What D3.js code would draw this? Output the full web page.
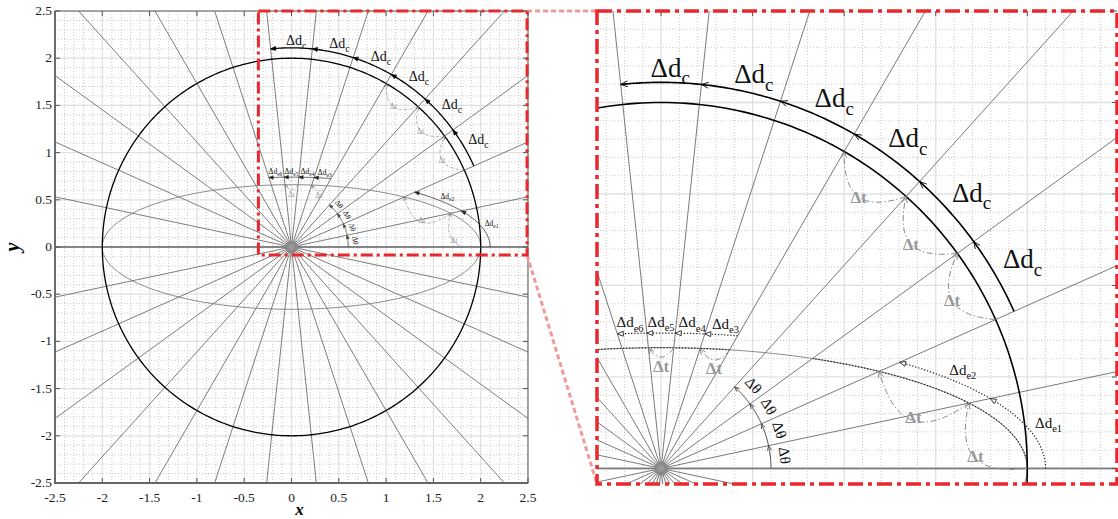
<!DOCTYPE html>
<html>
<head>
<meta charset="utf-8">
<script src="https://cdn.jsdelivr.net/npm/d3@7"></script>
<style>
  body { margin: 0; background: #fff; }
  svg { display: block; }
  text { font-family: "Liberation Serif", "Times New Roman", serif; }
</style>
</head>
<body>
<svg id="chart" width="1118" height="519"></svg>
<script>
// ---- values ----
const xTicks = [-2.5, -2, -1.5, -1, -0.5, 0, 0.5, 1, 1.5, 2, 2.5];
const yTicks = [-2.5, -2, -1.5, -1, -0.5, 0, 0.5, 1, 1.5, 2, 2.5];
const xTickLabels = ["-2.5", "-2", "-1.5", "-1", "-0.5", "0", "0.5", "1", "1.5", "2", "2.5"];
const yTickLabels = ["-2.5", "-2", "-1.5", "-1", "-0.5", "0", "0.5", "1", "1.5", "2", "2.5"];

// radial lines through the pole (degrees)
const rayAngles = [0, 12, 24, 36, 48, 60, 72, 84, 96, 108, 120, 132, 144, 156, 168,
                   180, 192, 204, 216, 228, 240, 252, 264, 276, 288, 300, 312, 324, 336, 348];

const circleRadius = 2;
const ellipseAxes = [2, 0.66];          // semi-axes of the ellipse
const outerEllipseAxes = [2.1, 0.74];   // offset ellipse carrying the Δd_e arrows
const topLabelAxes = [2.2, 0.8];        // ellipse on which the upper Δd_e labels sit

// Δd_c arc outside the circle
const dcArcRadius = 2.11;
const dcArcAngles = [24, 36, 48, 60, 72, 84, 96];
const dcSubs = ["c", "c", "c", "c", "c", "c"];
const dcLabelRadius = 2.19;

// Δt steps: circle and ellipse (start angle, end angle)
const dtCirclePairs = [[24, 36], [36, 48], [48, 60]];
const dtEllipsePairs = [[0, 12], [12, 24], [60, 72], [84, 96]];

// Δθ arc near the pole
const dThetaRadius = 0.6;
const dThetaAngles = [0, 12, 24, 36, 48];
const dThetaLabelRadius = 0.68;

// Δd_e arcs on the offset ellipse
const deSideAngles = [0, 12, 24];
const deSideSubs = ["e1", "e2"];
const deTopAngles = [60, 72, 84, 96, 108];
const deTopSubs = ["e3", "e4", "e5", "e6"];

// dotted stretches of the ellipse in the magnified view
const ellipseDottedRanges = [[0, 36], [60, 180]];

// ---- geometry helpers ----
const rad = d => d * Math.PI / 180;
const polar = (r, deg) => [r * Math.cos(rad(deg)), r * Math.sin(rad(deg))];
function ellipsePolar(ax, deg) {
  const [a, b] = ax, c = Math.cos(rad(deg)), s = Math.sin(rad(deg));
  const r = a * b / Math.sqrt((b * c) ** 2 + (a * s) ** 2);
  return [r * c, r * s];
}
function arcPts(fn, d0, d1, step = 0.5) {
  const n = Math.max(2, Math.ceil(Math.abs(d1 - d0) / step));
  return d3.range(n + 1).map(i => fn(d0 + (d1 - d0) * i / n));
}
const rot = (v, deg) => {
  const c = Math.cos(rad(deg)), s = Math.sin(rad(deg));
  return [v[0] * c - v[1] * s, v[0] * s + v[1] * c];
};

const svg = d3.select("#chart");
const RED = "#e8282c";

const panels = [
  {
    id: "full", px: [55, 528], py: [483, 11], xd: [-2.5, 2.5], yd: [-2.5, 2.5], full: true,
    s: {
      rayW: 0.9, rayC: "#6e6e6e", circleW: 1.3, ellW: 0.9, ellC: "#7a7a7a",
      dcFont: 14, dcSub: 10, dtFont: 7.5, dtBold: false, dthFont: 7.5,
      deFont: 7.5, deSub: 5.5, arrow: 5, arrowFilled: true, dtArrow: 3.5,
      dtDash: "2.5,1.2,0.7,1.2", dtW: 0.7, deDash: null, deW: 0.8, deC: "#333",
      majorW: 1.2, burst: 6
    }
  },
  {
    id: "zoom", px: [597, 1117], py: [484, 11], xd: [-0.35, 2.49], yd: [-0.085, 2.5], full: false,
    s: {
      rayW: 1, rayC: "#7a7a7a", circleW: 1.6, ellW: 1, ellC: "#8a8a8a",
      dcFont: 27, dcSub: 19, dtFont: 17, dtBold: true, dthFont: 15,
      deFont: 15, deSub: 10.5, arrow: 7, arrowFilled: false, dtArrow: 6,
      dtDash: "6,2.5,1.3,2.5", dtW: 1, deDash: "1.3,1.8", deW: 1.2, deC: "#222",
      majorW: 1.3, burst: 7
    }
  }
];

function headPath(tip, from, size, closed) {
  const dx = tip[0] - from[0], dy = tip[1] - from[1];
  const L = Math.hypot(dx, dy) || 1, ux = dx / L, uy = dy / L;
  const w = size * 0.42;
  const b = [tip[0] - ux * size, tip[1] - uy * size];
  const l = [b[0] - uy * w, b[1] + ux * w], r = [b[0] + uy * w, b[1] - ux * w];
  return `M${l[0]},${l[1]}L${tip[0]},${tip[1]}L${r[0]},${r[1]}` + (closed ? "Z" : "");
}

function subText(g, xPos, yPos, main, sub, size, subSize, anchor) {
  const t = g.append("text")
    .attr("x", xPos).attr("y", yPos)
    .attr("font-size", size)
    .attr("text-anchor", anchor)
    .attr("fill", "#111");
  t.append("tspan").text(main);
  t.append("tspan").attr("font-size", subSize).attr("dy", size * 0.28).text(sub);
  return t;
}

panels.forEach(P => {
  const S = P.s;
  const x = d3.scaleLinear().domain(P.xd).range(P.px);
  const y = d3.scaleLinear().domain(P.yd).range(P.py);
  const pt = d => [x(d[0]), y(d[1])];
  const line = d3.line().x(d => x(d[0])).y(d => y(d[1]));

  const clipId = "clip-" + P.id;
  svg.append("clipPath").attr("id", clipId).append("rect")
    .attr("x", P.px[0]).attr("y", P.py[1])
    .attr("width", P.px[1] - P.px[0]).attr("height", P.py[0] - P.py[1]);

  const g = svg.append("g");
  const body = g.append("g").attr("clip-path", `url(#${clipId})`);

  // grid: minor every 0.1 (dotted), major every 0.5
  const steps = dom => d3.range(Math.ceil(dom[0] * 10 - 1e-9), Math.floor(dom[1] * 10 + 1e-9) + 1).map(v => v / 10);
  const isMajor = v => Math.abs(v * 2 - Math.round(v * 2)) < 1e-6;
  const gx = steps(P.xd), gy = steps(P.yd);
  body.append("g").selectAll("line").data(gx.filter(v => !isMajor(v))).join("line")
    .attr("x1", d => x(d)).attr("x2", d => x(d)).attr("y1", P.py[0]).attr("y2", P.py[1])
    .attr("stroke", "#c4c4c4").attr("stroke-width", 0.9).attr("stroke-dasharray", "1,2");
  body.append("g").selectAll("line").data(gy.filter(v => !isMajor(v))).join("line")
    .attr("y1", d => y(d)).attr("y2", d => y(d)).attr("x1", P.px[0]).attr("x2", P.px[1])
    .attr("stroke", "#c4c4c4").attr("stroke-width", 0.9).attr("stroke-dasharray", "1,2");
  body.append("g").selectAll("line").data(gx.filter(isMajor)).join("line")
    .attr("x1", d => x(d)).attr("x2", d => x(d)).attr("y1", P.py[0]).attr("y2", P.py[1])
    .attr("stroke", "#e0e0e0").attr("stroke-width", S.majorW);
  body.append("g").selectAll("line").data(gy.filter(isMajor)).join("line")
    .attr("y1", d => y(d)).attr("y2", d => y(d)).attr("x1", P.px[0]).attr("x2", P.px[1])
    .attr("stroke", "#e0e0e0").attr("stroke-width", S.majorW);

  // horizontal axis through the pole
  body.append("line")
    .attr("x1", P.px[0]).attr("x2", P.px[1]).attr("y1", y(0)).attr("y2", y(0))
    .attr("stroke", "#9a9a9a").attr("stroke-width", 2);

  // radial lines
  body.append("g").selectAll("line").data(rayAngles).join("line")
    .attr("x1", x(0)).attr("y1", y(0))
    .attr("x2", d => x(polar(8, d)[0])).attr("y2", d => y(polar(8, d)[1]))
    .attr("stroke", S.rayC).attr("stroke-width", S.rayW);

  // dense fan at the pole
  const o = pt([0, 0]);
  body.append("g").selectAll("line").data(d3.range(0, 360, 4)).join("line")
    .attr("x1", o[0]).attr("y1", o[1])
    .attr("x2", d => o[0] + S.burst * Math.cos(rad(d)))
    .attr("y2", d => o[1] - S.burst * Math.sin(rad(d)))
    .attr("stroke", "#8a8a8a").attr("stroke-width", 0.8);
  body.append("circle").attr("cx", o[0]).attr("cy", o[1]).attr("r", S.burst * 0.45).attr("fill", "#999");

  // ellipse
  const ellPts = d3.range(0, 361, 1).map(t => [ellipseAxes[0] * Math.cos(rad(t)), ellipseAxes[1] * Math.sin(rad(t))]);
  body.append("path").attr("d", line(ellPts)).attr("fill", "none")
    .attr("stroke", S.ellC).attr("stroke-width", S.ellW);
  if (!P.full) {
    ellipseDottedRanges.forEach(r => {
      body.append("path").attr("d", line(arcPts(a => ellipsePolar(ellipseAxes, a), r[0], r[1])))
        .attr("fill", "none").attr("stroke", "#222").attr("stroke-width", 1.2)
        .attr("stroke-dasharray", "1.3,1.8");
    });
  }

  // circle
  const circPts = d3.range(0, 361, 1).map(a => polar(circleRadius, a));
  body.append("path").attr("d", line(circPts)).attr("fill", "none")
    .attr("stroke", "#000").attr("stroke-width", S.circleW);

  const ann = body.append("g");

  function arrowAt(fn, deg, size, closed, filled, color) {
    const tip = pt(fn(deg)), from = pt(fn(deg - 0.6));
    ann.append("path").attr("d", headPath(tip, from, size, closed || filled))
      .attr("fill", filled ? color : (closed ? "#fff" : "none"))
      .attr("stroke", color).attr("stroke-width", filled ? 0.6 : 0.9)
      .attr("stroke-linejoin", "miter");
  }

  // Δd_c arc with arrows and labels
  const dcFn = a => polar(dcArcRadius, a);
  ann.append("path")
    .attr("d", line(arcPts(dcFn, dcArcAngles[0], dcArcAngles[dcArcAngles.length - 1])))
    .attr("fill", "none").attr("stroke", "#000").attr("stroke-width", S.circleW);
  dcArcAngles.slice(1).forEach(a => arrowAt(dcFn, a, S.arrow, false, S.arrowFilled, "#000"));
  dcSubs.forEach((sub, i) => {
    const mid = (dcArcAngles[i] + dcArcAngles[i + 1]) / 2;
    const p = pt(polar(dcLabelRadius, mid + 1.5));
    subText(ann, p[0], p[1] + S.dcFont * 0.33, "Δd", sub, S.dcFont, S.dcSub, "start");
  });

  // Δd_e arcs on the offset ellipse
  const deFn = a => ellipsePolar(outerEllipseAxes, a);
  [deSideAngles, deTopAngles].forEach(angles => {
    const p = ann.append("path")
      .attr("d", line(arcPts(deFn, angles[0], angles[angles.length - 1])))
      .attr("fill", "none").attr("stroke", S.deC).attr("stroke-width", S.deW);
    if (S.deDash) p.attr("stroke-dasharray", S.deDash);
    angles.slice(1).forEach(a => arrowAt(deFn, a, S.arrow * 0.85, !S.arrowFilled, S.arrowFilled, "#222"));
  });
  deSideSubs.forEach((sub, i) => {
    const mid = (deSideAngles[i] + deSideAngles[i + 1]) / 2;
    const q = ellipsePolar(outerEllipseAxes, mid);
    const p = pt([q[0] + 0.03, q[1] + 0.035]);
    subText(ann, p[0], p[1] + S.deFont * 0.33, "Δd", sub, S.deFont, S.deSub, "start");
  });
  deTopSubs.forEach((sub, i) => {
    const mid = (deTopAngles[i] + deTopAngles[i + 1]) / 2;
    const p = pt(ellipsePolar(topLabelAxes, mid));
    subText(ann, p[0], p[1] + S.deFont * 0.33, "Δd", sub, S.deFont, S.deSub, "middle");
  });

  // Δθ arc
  const thFn = a => polar(dThetaRadius, a);
  ann.append("path")
    .attr("d", line(arcPts(thFn, dThetaAngles[0], dThetaAngles[dThetaAngles.length - 1])))
    .attr("fill", "none").attr("stroke", "#444").attr("stroke-width", P.full ? 0.8 : 1);
  dThetaAngles.slice(1).forEach(a => arrowAt(thFn, a, S.arrow * 0.7, false, S.arrowFilled, "#444"));
  dThetaAngles.slice(0, -1).forEach((a, i) => {
    const mid = (a + dThetaAngles[i + 1]) / 2;
    const p = pt(polar(dThetaLabelRadius, mid));
    ann.append("text")
      .attr("transform", `translate(${p[0]},${p[1]}) rotate(${90 - mid})`)
      .attr("text-anchor", "middle").attr("dy", "0.35em")
      .attr("font-size", S.dthFont).attr("fill", "#111").text("Δθ");
  });

  // Δt steps
  function dtStep(Ps, Pe) {
    const L = Math.hypot(Pe[0] - Ps[0], Pe[1] - Ps[1]);
    const u = [(Pe[0] - Ps[0]) / L, (Pe[1] - Ps[1]) / L];
    const d1 = rot(u, 55), d2 = rot(u, -55);
    const C1 = [Ps[0] + 0.6 * L * d1[0], Ps[1] + 0.6 * L * d1[1]];
    const C2 = [Pe[0] - 0.6 * L * d2[0], Pe[1] - 0.6 * L * d2[1]];
    const a = pt(Ps), b = pt(C1), c = pt(C2), e = pt(Pe);
    ann.append("path")
      .attr("d", `M${a}C${b} ${c} ${e}`)
      .attr("fill", "none").attr("stroke", "#8a8a8a").attr("stroke-width", S.dtW)
      .attr("stroke-dasharray", S.dtDash);
    const back = pt([Pe[0] - 0.02 * d2[0], Pe[1] - 0.02 * d2[1]]);
    ann.append("path").attr("d", headPath(e, back, S.dtArrow, false))
      .attr("fill", "none").attr("stroke", "#777").attr("stroke-width", 0.9);
    const n = rot(u, 90), dist = 0.07 + 0.2 * L;
    const M = [(Ps[0] + Pe[0]) / 2 + dist * n[0], (Ps[1] + Pe[1]) / 2 + dist * n[1]];
    const m = pt(M);
    ann.append("text").attr("x", m[0]).attr("y", m[1]).attr("dy", "0.35em")
      .attr("text-anchor", "middle").attr("font-size", S.dtFont)
      .attr("font-weight", S.dtBold ? "bold" : "normal")
      .attr("fill", "#999").text("Δt");
  }
  dtCirclePairs.forEach(([a0, a1]) => dtStep(polar(circleRadius, a0), polar(circleRadius, a1)));
  dtEllipsePairs.forEach(([a0, a1]) => dtStep(ellipsePolar(ellipseAxes, a0), ellipsePolar(ellipseAxes, a1)));

  // ticks (inward)
  const tk = 5;
  const xT = xTicks.filter(v => v >= P.xd[0] - 1e-9 && v <= P.xd[1] + 1e-9);
  const yT = yTicks.filter(v => v >= P.yd[0] - 1e-9 && v <= P.yd[1] + 1e-9);
  const tg = g.append("g").attr("stroke", "#555").attr("stroke-width", 1);
  tg.selectAll(".tt").data(xT).join("line").attr("class", "tt")
    .attr("x1", d => x(d)).attr("x2", d => x(d)).attr("y1", P.py[1]).attr("y2", P.py[1] + tk);
  tg.selectAll(".tr").data(yT).join("line").attr("class", "tr")
    .attr("y1", d => y(d)).attr("y2", d => y(d)).attr("x1", P.px[1]).attr("x2", P.px[1] - tk);

  if (P.full) {
    tg.selectAll(".tb").data(xT).join("line").attr("class", "tb")
      .attr("x1", d => x(d)).attr("x2", d => x(d)).attr("y1", P.py[0]).attr("y2", P.py[0] - tk);
    tg.selectAll(".tl").data(yT).join("line").attr("class", "tl")
      .attr("y1", d => y(d)).attr("y2", d => y(d)).attr("x1", P.px[0]).attr("x2", P.px[0] + tk);
    // frame
    g.append("rect").attr("x", P.px[0]).attr("y", P.py[1])
      .attr("width", P.px[1] - P.px[0]).attr("height", P.py[0] - P.py[1])
      .attr("fill", "none").attr("stroke", "#555").attr("stroke-width", 1);
    g.append("path").attr("d", `M${P.px[0]},${P.py[1]}V${P.py[0]}H${P.px[1]}`)
      .attr("fill", "none").attr("stroke", "#666").attr("stroke-width", 1.8);

    // tick labels
    g.append("g").selectAll("text").data(xT).join("text")
      .attr("x", d => x(d)).attr("y", P.py[0] + 19).attr("text-anchor", "middle")
      .attr("font-size", 13.5).attr("fill", "#222")
      .text(d => xTickLabels[xTicks.indexOf(d)]);
    g.append("g").selectAll("text").data(yT).join("text")
      .attr("x", P.px[0] - 3).attr("y", d => y(d)).attr("dy", "0.3em").attr("text-anchor", "end")
      .attr("font-size", 13.5).attr("fill", "#222")
      .text(d => yTickLabels[yTicks.indexOf(d)]);

    // axis titles
    g.append("text").attr("x", x(0) + 8).attr("y", 515).attr("text-anchor", "middle")
      .attr("font-size", 17).attr("font-weight", "bold").attr("font-style", "italic").text("x");
    g.append("text").attr("transform", `translate(19,${y(0)}) rotate(-90)`)
      .attr("text-anchor", "middle").attr("font-size", 20)
      .attr("font-weight", "bold").attr("font-style", "italic").text("y");

    P.xScale = x; P.yScale = y;
  }
});

// magnification frames and connectors
const F = panels[0], Z = panels[1];
const bx0 = F.xScale(Z.xd[0]), bx1 = F.xScale(Z.xd[1]);
const by0 = F.yScale(Z.yd[1]), by1 = F.yScale(Z.yd[0]);
svg.append("line").attr("x1", bx1).attr("y1", by0).attr("x2", Z.px[0]).attr("y2", Z.py[1])
  .attr("stroke", "#f29a9a").attr("stroke-width", 3).attr("stroke-dasharray", "5,3");
svg.append("line").attr("x1", bx1).attr("y1", by1).attr("x2", Z.px[0]).attr("y2", Z.py[0])
  .attr("stroke", "#f29a9a").attr("stroke-width", 3).attr("stroke-dasharray", "5,3");
svg.append("rect").attr("x", bx0).attr("y", by0).attr("width", bx1 - bx0).attr("height", by1 - by0)
  .attr("fill", "none").attr("stroke", RED).attr("stroke-width", 3)
  .attr("stroke-dasharray", "12,4,3,4");
svg.append("rect").attr("x", Z.px[0]).attr("y", Z.py[1])
  .attr("width", Z.px[1] - Z.px[0]).attr("height", Z.py[0] - Z.py[1])
  .attr("fill", "none").attr("stroke", RED).attr("stroke-width", 3.5)
  .attr("stroke-dasharray", "15,5,4,5");
</script>
</body>
</html>
